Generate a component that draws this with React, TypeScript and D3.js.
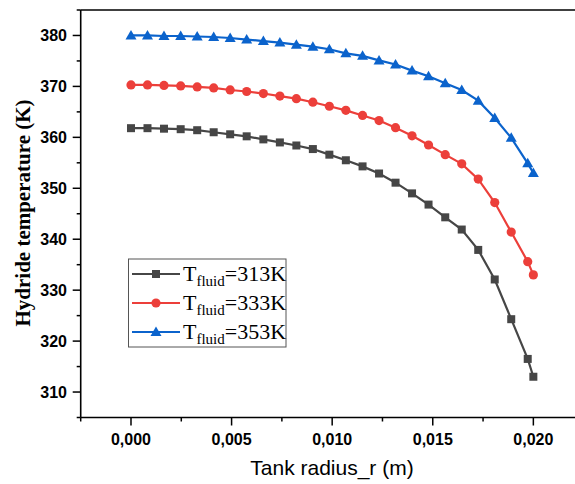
import React from "react";
import * as d3 from "d3";

const radius = [0, 0.00082, 0.00164, 0.00247, 0.00329, 0.00411, 0.00493, 0.00575, 0.00658, 0.0074, 0.00822, 0.00904, 0.00986, 0.01068, 0.01151, 0.01233, 0.01315, 0.01397, 0.01479, 0.01562, 0.01644, 0.01726, 0.01808, 0.0189, 0.01972, 0.02];
const t313 = [361.8, 361.8, 361.7, 361.6, 361.4, 361.0, 360.6, 360.2, 359.6, 359.0, 358.4, 357.7, 356.6, 355.5, 354.3, 352.9, 351.1, 349.0, 346.8, 344.3, 341.9, 337.9, 332.1, 324.3, 316.5, 313.0];
const t333 = [370.3, 370.3, 370.2, 370.1, 369.9, 369.7, 369.3, 369.0, 368.6, 368.1, 367.6, 366.9, 366.1, 365.3, 364.3, 363.3, 361.9, 360.3, 358.5, 356.6, 354.8, 351.8, 347.2, 341.4, 335.6, 333.0];
const t353 = [380, 380, 379.9, 379.9, 379.8, 379.7, 379.5, 379.2, 378.9, 378.6, 378.2, 377.8, 377.3, 376.5, 376.0, 375.1, 374.3, 373.1, 372.0, 370.6, 369.3, 367.2, 363.8, 359.9, 354.9, 353.0];
const seriesLabels = ["=313K", "=333K", "=353K"];
const xTicks = [0, 0.005, 0.01, 0.015, 0.02];
const xMinor = [-0.0025, 0.0025, 0.0075, 0.0125, 0.0175];
const yTicks = [310, 320, 330, 340, 350, 360, 370, 380];
const yMinor = [305, 315, 325, 335, 345, 355, 365, 375, 385];

const W = 575, H = 484;
const x = d3.scaleLinear().domain([-0.0025, 0.02207]).range([80.7, 575]);
const y = d3.scaleLinear().domain([305, 385]).range([417.5, 10]);

const colors = ["#464646", "#ec3f3a", "#0b63cc"];
const allSeries = [t313, t333, t353];
const fmtX = (v: number) => d3.format(".3f")(v).replace(".", ",");

function Marker({ kind, cx, cy, color }: { kind: number; cx: number; cy: number; color: string }) {
  if (kind === 0) return <rect x={cx - 4} y={cy - 4} width={8} height={8} fill={color} />;
  if (kind === 1) return <circle cx={cx} cy={cy} r={4.6} fill={color} />;
  return <path d={`M${cx},${cy - 5.5} L${cx + 5.5},${cy + 4} L${cx - 5.5},${cy + 4} Z`} fill={color} />;
}

export default function App() {
  const line = d3.line<[number, number]>().x(d => x(d[0])).y(d => y(d[1]));
  const legendTop = 259;
  const rowY = [274, 303, 332];
  return (
    <svg width={W} height={H} style={{ position: "absolute", left: 0, top: 0, background: "#fff" }}>
      {/* frame */}
      <line x1={x(-0.0025)} x2={W} y1={y(385)} y2={y(385)} stroke="#000" strokeWidth={1.6} />
      <line x1={x(-0.0025)} x2={x(-0.0025)} y1={y(385)} y2={y(305)} stroke="#000" strokeWidth={1.6} />
      <line x1={x(-0.0025)} x2={W} y1={y(305)} y2={y(305)} stroke="#000" strokeWidth={1.6} />
      {/* x ticks */}
      {xTicks.map(t => (
        <g key={"xt" + t}>
          <line x1={x(t)} x2={x(t)} y1={y(305)} y2={y(305) + 8} stroke="#000" strokeWidth={1.5} />
          <text x={x(t)} y={445} textAnchor="middle" fontFamily="Liberation Sans, Arial" fontWeight="bold" fontSize={16}>{fmtX(t)}</text>
        </g>
      ))}
      {xMinor.map(t => (
        <line key={"xm" + t} x1={x(t)} x2={x(t)} y1={y(305)} y2={y(305) + 4} stroke="#000" strokeWidth={1.5} />
      ))}
      {/* y ticks */}
      {yTicks.map(t => (
        <g key={"yt" + t}>
          <line x1={x(-0.0025) - 8} x2={x(-0.0025)} y1={y(t)} y2={y(t)} stroke="#000" strokeWidth={1.5} />
          <text x={67} y={y(t) + 5.7} textAnchor="end" fontFamily="Liberation Sans, Arial" fontWeight="bold" fontSize={16}>{t}</text>
        </g>
      ))}
      {yMinor.map(t => (
        <line key={"ym" + t} x1={x(-0.0025) - 4} x2={x(-0.0025)} y1={y(t)} y2={y(t)} stroke="#000" strokeWidth={1.5} />
      ))}
      {/* titles */}
      <text x={332} y={475} textAnchor="middle" fontFamily="Liberation Sans, Arial" fontSize={21}>Tank radius_r (m)</text>
      <text transform={`translate(30,${213}) rotate(-90)`} textAnchor="middle" fontFamily="Liberation Serif, Times New Roman" fontWeight="bold" fontSize={21}>Hydride temperature (K)</text>
      {/* series */}
      {allSeries.map((s, i) => {
        const pts = radius.map((r, k) => [r, s[k]] as [number, number]);
        return (
          <g key={"s" + i}>
            <path d={line(pts) || ""} fill="none" stroke={colors[i]} strokeWidth={2.2} />
            {pts.map((p, k) => <Marker key={k} kind={i} cx={x(p[0])} cy={y(p[1])} color={colors[i]} />)}
          </g>
        );
      })}
      {/* legend */}
      <rect x={128.5} y={legendTop} width={157.5} height={88} fill="#fff" stroke="#555" strokeWidth={1} />
      {seriesLabels.map((lab, i) => (
        <g key={"lg" + i}>
          <line x1={132} x2={180} y1={rowY[i]} y2={rowY[i]} stroke={colors[i]} strokeWidth={2.2} />
          <Marker kind={i} cx={156} cy={rowY[i]} color={colors[i]} />
          <text x={183} y={rowY[i] + 7} fontFamily="Liberation Serif, Times New Roman" fontSize={22}>
            T<tspan fontSize={15} dy={5}>fluid</tspan><tspan dy={-5}>{lab}</tspan>
          </text>
        </g>
      ))}
    </svg>
  );
}
